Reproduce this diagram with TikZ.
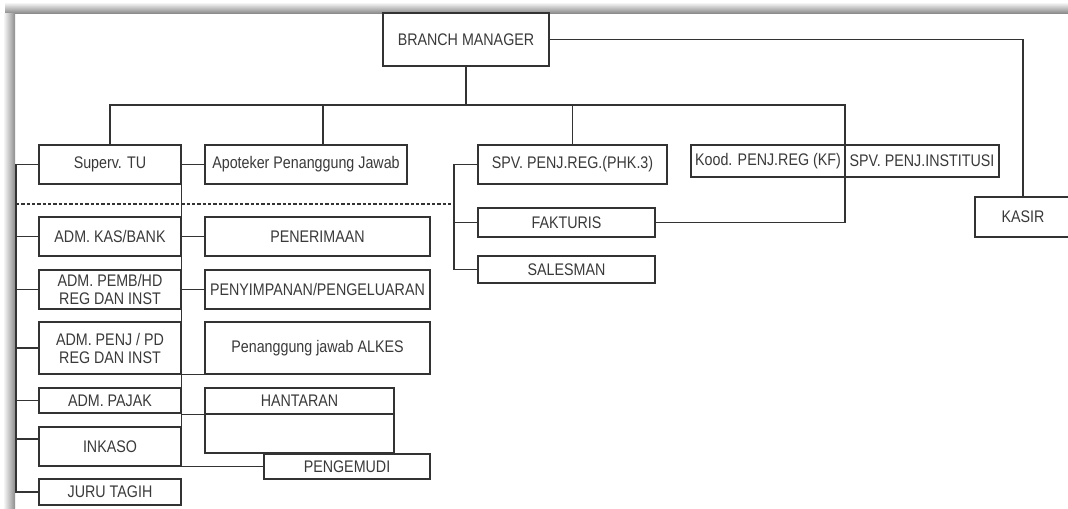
\documentclass[tikz,border=0pt]{standalone}
\usepackage{fontspec}
\setmainfont{Liberation Sans}[FakeStretch=0.85]
\definecolor{linegray}{HTML}{333333}
\definecolor{textgray}{HTML}{3A3A3A}
\tikzset{
  orgbox/.style 2 args={draw=linegray, fill=white, line width=0.95pt, text=textgray, inner sep=1pt, align=center,
    minimum width=#1*0.75pt, minimum height=#2*0.75pt, font=\fontsize{12.6}{13.5}\selectfont},
  link/.style={draw=linegray, line width=0.95pt}
}

\begin{document}
\begin{tikzpicture}[x=0.75pt, y=-0.75pt]
\clip (0,0) rectangle (1068,508);
\fill[white] (0,0) rectangle (1068,508);
\shade[top color=white, bottom color=gray!90] (5,2) rectangle (1068,13);
\shade[left color=white, right color=gray!90] (3,13) rectangle (15,508);

\node[orgbox={166}{53}] (bm) at (466,39.5) {BRANCH MANAGER};
\node[orgbox={142}{39}] (suptu) at (110,164.5) {Superv. TU};
\node[orgbox={202}{39}] (apt) at (306,164.5) {Apoteker Penanggung Jawab};
\node[orgbox={189}{39}] (spvreg) at (572.5,164.5) {SPV. PENJ.REG.(PHK.3)};
\node[orgbox={154}{32}] (kood) at (768,161) {Kood. PENJ.REG (KF)};
\node[orgbox={154}{32}] (spvinst) at (922,161) {SPV. PENJ.INSTITUSI};
\node[orgbox={96}{40}] (kasir) at (1023,217) {KASIR};
\node[orgbox={177}{29}] (fakturis) at (566.5,222.5) {FAKTURIS};
\node[orgbox={177}{27}] (salesman) at (566.5,269.5) {SALESMAN};
\node[orgbox={142}{39}] (admkas) at (110,236.5) {ADM. KAS/BANK};
\node[orgbox={225}{39}] (penerimaan) at (317.5,236.5) {PENERIMAAN};
\node[orgbox={142}{39}] (admpemb) at (110,289.5) {ADM. PEMB/HD\\REG DAN INST};
\node[orgbox={225}{39}] (penyimpanan) at (317.5,289.5) {PENYIMPANAN/PENGELUARAN};
\node[orgbox={142}{52}] (admpenj) at (110,348) {ADM. PENJ / PD\\REG DAN INST};
\node[orgbox={225}{52}] (alkes) at (317.5,348) {Penanggung jawab ALKES};
\node[orgbox={142}{25}] (admpajak) at (110,400.5) {ADM. PAJAK};
\node[orgbox={189}{26}] (hantaran) at (299.5,401) {HANTARAN};
\node[orgbox={189}{39}] (hantaranbawah) at (299.5,433.5) {};
\node[orgbox={142}{39}] (inkaso) at (110,446.5) {INKASO};
\node[orgbox={166}{25}] (pengemudi) at (347,466.5) {PENGEMUDI};
\node[orgbox={142}{26}] (jurutagih) at (110,492) {JURU TAGIH};

\coordinate (busR) at (845,105);
\coordinate (trunkT) at (16,164.5);
\coordinate (sideT) at (454,164.5);
\coordinate (dashL) at (16,204);
\coordinate (dashR) at (454,204);

\draw[link] (bm.south) -- (bm.south |- busR);
\draw[link] (suptu.north) |- (busR) |- (fakturis.east);
\draw[link] ([xshift=12.75pt]apt.north) -- ([xshift=12.75pt]apt.north |- busR);
\draw[link] (spvreg.north) -- (spvreg.north |- busR);
\draw[link] (bm.east) -| (kasir.north);
\draw[link] (suptu.east) -- (apt.west);

\draw[link] (suptu.west) -- (trunkT) |- (jurutagih.west);
\foreach \n in {admkas, admpemb, admpenj, admpajak}
  \draw[link] (\n.west) -- (\n.west -| trunkT);
\draw[link] ([yshift=5.6pt]inkaso.west) -- ([yshift=5.6pt]inkaso.west -| trunkT);

\draw[link] (suptu.south east) -- (suptu.south east |- pengemudi.west) -- (pengemudi.west);
\draw[link] (admkas.east) -- (penerimaan.west);
\draw[link] (admpemb.east) -- (penyimpanan.west);
\draw[link] (admpenj.south east) -- (alkes.south west);
\draw[link] (hantaran.south west -| admpajak.east) -- (hantaran.south west);

\draw[link] (spvreg.west) -- (sideT) |- (salesman.west);
\draw[link] (fakturis.west) -- (fakturis.west -| sideT);
\draw[link, dash pattern=on 2.5pt off 1.5pt] (dashL) -- (dashR);
\end{tikzpicture}
\end{document}
